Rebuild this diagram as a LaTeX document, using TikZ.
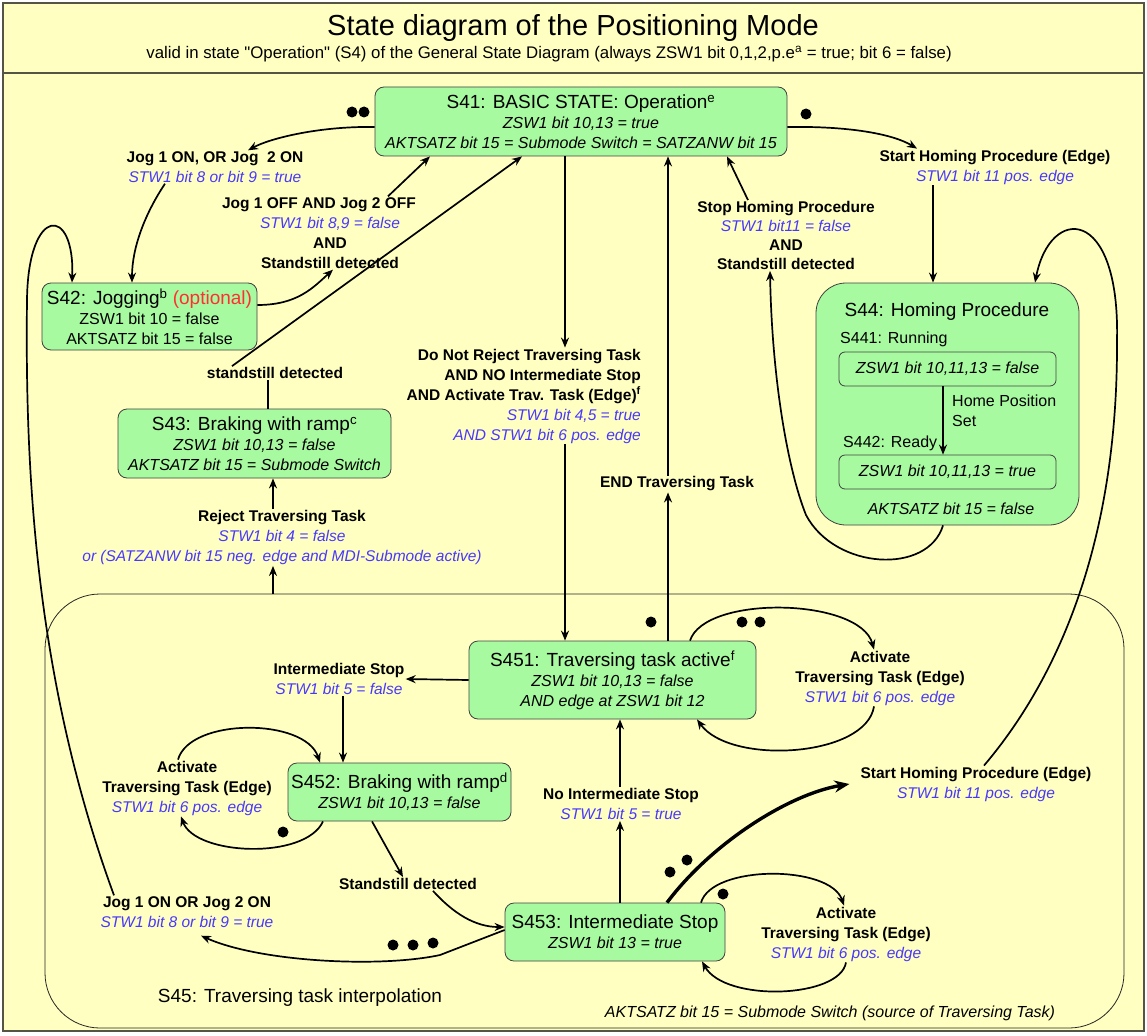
\documentclass[tikz,border=0pt]{standalone}
\usepackage{fontspec}
\setmainfont{Liberation Sans}
\newfontfamily\straightquotes{Liberation Sans}[Ligatures=TeXOff]
\usetikzlibrary{arrows.meta}

\definecolor{paper}{RGB}{255,255,194}
\definecolor{boxgreen}{RGB}{168,250,160}
\definecolor{condblue}{RGB}{72,56,255}
\definecolor{optred}{RGB}{255,48,48}
\definecolor{framegray}{RGB}{85,85,70}

\newcommand\cond[1]{{\color{condblue}\mdseries\itshape #1}}
\newcommand\iz[1]{{\itshape #1}}
\newcommand\boxtitle[1]{{\fontsize{19}{20}\selectfont #1}}

\begin{document}
\begin{tikzpicture}[x=1pt,y=1pt,
  statebox/.style={draw=black!75, fill=boxgreen, rounded corners=9pt, line width=0.8pt,
    align=center, inner sep=0pt, font=\fontsize{16}{20}\selectfont},
  innerbox/.style={draw=black!75, rounded corners=6pt, line width=0.8pt, inner sep=0pt,
    minimum width=217pt, minimum height=34pt, font=\fontsize{16}{20}\selectfont},
  trans/.style={align=center, inner sep=1pt, font=\fontsize{15.5}{20}\selectfont\bfseries},
  plaintext/.style={inner sep=1pt, font=\fontsize{16}{20}\selectfont},
  conn/.style={line width=1.7pt, -{Stealth[length=10pt,width=8pt]}},
  bold conn/.style={line width=3.4pt, -{Stealth[length=15pt,width=12pt]}},
  plainline/.style={line width=1.7pt},
  frameline/.style={draw=framegray, line width=1.8pt}]

\useasboundingbox (0,0) rectangle (1147,-1035);
\fill[white] (0,0) rectangle (1147,-1035);
\draw[frameline, fill=paper] (3,-3) rectangle (1144,-1031);
\draw[frameline] (3,-73) -- (1144,-73);

% heading
\node[inner sep=0pt, font=\fontsize{29}{30}\selectfont] (title) at (573,-28)
  {State diagram of the Positioning Mode};
\node[inner sep=0pt, font=\straightquotes\fontsize{16.8}{18}\selectfont] (subtitle) at (549,-54)
  {valid in state "Operation" (S4) of the General State Diagram (always ZSW1 bit 0,1,2,p.e\textsuperscript{a} = true; bit 6 = false)};

% superstate S45
\node[draw=black!85, line width=0.8pt, rounded corners=55pt, minimum width=1079pt,
  minimum height=434pt, inner sep=0pt] (s45) at (584.5,-811) {};
\node[plaintext, font=\fontsize{19}{20}\selectfont] (s45name) at (300,-998)
  {S45: Traversing task interpolation};
\node[plaintext] (s45note) at (830,-1013)
  {\iz{AKTSATZ bit 15 = Submode Switch (source of Traversing Task)}};

% states
\node[statebox, minimum width=412pt, minimum height=69pt] (s41) at (581,-121.5)
  {\boxtitle{S41: BASIC STATE: Operation\textsuperscript{e}}\\
   \iz{ZSW1 bit 10,13 = true}\\
   \iz{AKTSATZ bit 15 = Submode Switch = SATZANW bit 15}};
\node[statebox, minimum width=215pt, minimum height=67pt] (s42) at (149.5,-316.5)
  {\boxtitle{S42: Jogging\textsuperscript{b} {\color{optred}(optional)}}\\
   ZSW1 bit 10 = false\\ AKTSATZ bit 15 = false};
\node[statebox, minimum width=273pt, minimum height=69pt] (s43) at (254.5,-443.5)
  {\boxtitle{S43: Braking with ramp\textsuperscript{c}}\\
   \iz{ZSW1 bit 10,13 = false}\\ \iz{AKTSATZ bit 15 = Submode Switch}};
\node[statebox, rounded corners=30pt, minimum width=263pt, minimum height=242pt] (s44) at (947.5,-404) {};
\node[plaintext, font=\fontsize{19}{20}\selectfont] (s44t) at (947,-312) {S44: Homing Procedure};
\node[plaintext, anchor=west] (s441l) at (839,-339) {S441: Running};
\node[innerbox] (s441) at (947.5,-369) {\iz{ZSW1 bit 10,11,13 = false}};
\node[plaintext, anchor=west, align=left] (hps) at (951,-411) {Home Position\\Set};
\node[plaintext, anchor=west] (s442l) at (842,-443) {S442: Ready};
\node[innerbox] (s442) at (947.5,-472) {\iz{ZSW1 bit 10,11,13 = true}};
\node[plaintext] (s44f) at (951,-509) {\iz{AKTSATZ bit 15 = false}};
\node[statebox, minimum width=287pt, minimum height=78pt] (s451) at (612.5,-680)
  {\boxtitle{S451: Traversing task active\textsuperscript{f}}\\
   \iz{ZSW1 bit 10,13 = false}\\ \iz{AND edge at ZSW1 bit 12}};
\node[statebox, minimum width=223pt, minimum height=58pt] (s452) at (399.5,-792)
  {\boxtitle{S452: Braking with ramp\textsuperscript{d}}\\ \iz{ZSW1 bit 10,13 = false}};
\node[statebox, minimum width=220pt, minimum height=58pt] (s453) at (615,-932)
  {\boxtitle{S453: Intermediate Stop}\\ \iz{ZSW1 bit 13 = true}};

% transition labels
\node[trans] (jogon) at (215,-167)
  {Jog 1 ON, OR Jog\ \ 2 ON\\ \cond{STW1 bit 8 or bit 9 = true}};
\node[trans] (jogoff) at (330,-233)
  {Jog 1 OFF AND Jog 2 OFF\hspace*{22pt}\\ \cond{STW1 bit 8,9 = false}\\ AND\\ Standstill detected};
\node[trans] (stillA) at (275,-373) {standstill detected};
\node[trans] (reject) at (282,-537.5)
  {Reject Traversing Task\\ \cond{STW1 bit 4 = false}\\
   \cond{or (SATZANW bit 15 neg. edge and MDI-Submode active)}};
\node[trans, align=right, anchor=east] (notreject) at (642,-396)
  {Do Not Reject Traversing Task\\ AND NO Intermediate Stop\\
   AND Activate Trav. Task (Edge)\textsuperscript{f}\\
   \cond{STW1 bit 4,5 = true}\\ \cond{AND STW1 bit 6 pos. edge}};
\node[trans] (endtrav) at (677,-484) {END Traversing Task};
\node[trans] (starthome) at (995,-167)
  {Start Homing Procedure (Edge)\\ \cond{STW1 bit 11 pos. edge}};
\node[trans, font=\fontsize{15.5}{19}\selectfont\bfseries] (stophome) at (786,-235.5)
  {Stop Homing Procedure\\ \cond{STW1 bit11 = false}\\ AND\\ Standstill detected};
\node[trans] (actA) at (880,-678)
  {Activate\\ Traversing Task (Edge)\\ \cond{STW1 bit 6 pos. edge}};
\node[trans] (interstop) at (339,-679)
  {Intermediate Stop\\ \cond{STW1 bit 5 = false}};
\node[trans] (actB) at (187,-788)
  {Activate\\ Traversing Task (Edge)\\ \cond{STW1 bit 6 pos. edge}};
\node[trans] (stillB) at (408,-884) {Standstill detected};
\node[trans] (jogB) at (187,-912)
  {Jog 1 ON OR Jog 2 ON\\ \cond{STW1 bit 8 or bit 9 = true}};
\node[trans] (nointer) at (621,-804)
  {No Intermediate Stop\\ \cond{STW1 bit 5 = true}};
\node[trans] (starthomeB) at (976,-784)
  {Start Homing Procedure (Edge)\\ \cond{STW1 bit 11 pos. edge}};
\node[trans] (actC) at (846,-934)
  {Activate\\ Traversing Task (Edge)\\ \cond{STW1 bit 6 pos. edge}};

% transitions around S41
\draw[conn] ([yshift=-5.5pt]s41.west) .. controls +(-55,1) and +(22,12) .. ([xshift=33pt]jogon.north);
\draw[conn] ([xshift=-50pt]jogon.south) .. controls +(-20,-30) and +(0,35) .. ([xshift=-17.5pt]s42.north);
\draw[conn] ([yshift=11.5pt]s42.east) .. controls +(40,0) and +(-20,-18) .. ([xshift=3pt]jogoff.south);
\draw[conn] ([xshift=58pt]jogoff.north) -- ([xshift=-151pt]s41.south);
\draw[plainline] ([xshift=13.5pt]s43.north) -- ([xshift=-7pt]stillA.south);
\draw[conn] ([xshift=-43pt]stillA.north) -- ([xshift=-59pt]s41.south);
\draw[conn] ([xshift=-311.5pt]s45.north) -- ([xshift=-9pt]reject.south);
\draw[conn] ([xshift=-9pt]reject.north) -- ([xshift=18.5pt]s43.south);
\draw[conn] ([xshift=-16pt]s41.south) -- ([xshift=-16pt]s41.south |- notreject.north);
\draw[conn] ([xshift=-47.5pt]s451.north |- notreject.south) -- ([xshift=-47.5pt]s451.north);
\draw[conn] ([xshift=55.5pt]s451.north) -- ([xshift=55.5pt]s451.north |- endtrav.south);
\draw[conn] ([xshift=55.5pt]s451.north |- endtrav.north) -- ([xshift=87pt]s41.south);
\draw[conn] ([yshift=-5.5pt]s41.east) .. controls +(60,1) and +(-25,15) .. ([xshift=-78pt]starthome.north);
\draw[conn] ([xshift=-62pt]starthome.south) -- ([xshift=-14.5pt]s44.north);
\draw[conn] ([xshift=-4.5pt]s44.south) .. controls (928,-575) and (835,-570) .. (806,-515)
  .. controls (788,-470) and (772,-380) .. ([xshift=-16pt]stophome.south);
\draw[conn] ([xshift=-38pt]stophome.north) -- ([xshift=146pt]s41.south);
\draw[conn] ([xshift=-4.5pt]s441.south) -- ([xshift=-4.5pt]s442.north);

% transitions inside S45
\draw[conn] ([xshift=77.5pt]s451.north) .. controls +(15,46) and +(-14,52) .. ([xshift=-6pt]actA.north);
\draw[conn] ([xshift=-6pt]actA.south) .. controls +(-8,-51) and +(33,-46) .. ([xshift=84.5pt]s451.south);
\draw[conn] (s451.west) -- (interstop.east);
\draw[conn] ([xshift=4pt]interstop.south) -- ([xshift=-56.5pt]s452.north);
\draw[conn] ([xshift=-76.5pt]s452.south) .. controls +(-18,-39) and +(14,-39) .. ([xshift=-6pt]actB.south);
\draw[conn] ([xshift=-9pt]actB.north) .. controls +(12,42) and +(-15,45) .. ([xshift=-79.5pt]s452.north);
\draw[conn] ([xshift=-27.5pt]s452.south) -- ([xshift=-5pt]stillB.north);
\draw[conn] ([xshift=25pt]stillB.south) .. controls +(20,-22) and +(-30,0) .. ([yshift=5pt]s453.west);
\draw[conn] ([yshift=2pt]s453.west) -- (440,-955) .. controls (380,-968) and (260,-962) .. ([xshift=14pt,yshift=-7pt]jogB.south);
\draw[conn] ([xshift=-73pt]jogB.north) .. controls (35,-680) and (25,-470) .. (27,-300)
  .. controls (28,-205) and (75,-205) .. ([xshift=-77.5pt]s42.north);
\draw[conn] ([xshift=5pt]s453.north) -- ([xshift=5pt]s453.north |- nointer.south);
\draw[conn] ([xshift=5pt]s453.north |- nointer.north) -- ([xshift=7.5pt]s451.south);
\draw[bold conn] ([xshift=52pt]s453.north) .. controls +(45,60) and +(-60,-10) .. ([xshift=-10pt]starthomeB.west);
\draw[conn] ([xshift=8pt]starthomeB.north) .. controls (1065,-670) and (1118,-530) .. (1117,-340)
  .. controls (1120,-205) and (1050,-205) .. ([xshift=87.5pt]s44.north);
\draw[conn] ([xshift=86pt]s453.north) .. controls +(11,38) and +(-14,41) .. ([xshift=-2pt]actC.north);
\draw[conn] (actC.south) .. controls +(-6,-36) and +(23,-41) .. ([xshift=87pt]s453.south);

% priority tokens
\fill (352,-112) circle (5.5pt) (364,-112) circle (5.5pt);
\fill (806,-114) circle (5.5pt);
\fill (651,-622) circle (5.5pt);
\fill (742,-622) circle (5.5pt) (760,-622) circle (5.5pt);
\fill (283,-832) circle (5.5pt);
\fill (393,-945) circle (5.5pt) (413,-945) circle (5.5pt) (433,-943) circle (5.5pt);
\fill (670,-872) circle (5.5pt) (687,-860) circle (5.5pt);
\fill (723,-894) circle (5.5pt);
\end{tikzpicture}
\end{document}
